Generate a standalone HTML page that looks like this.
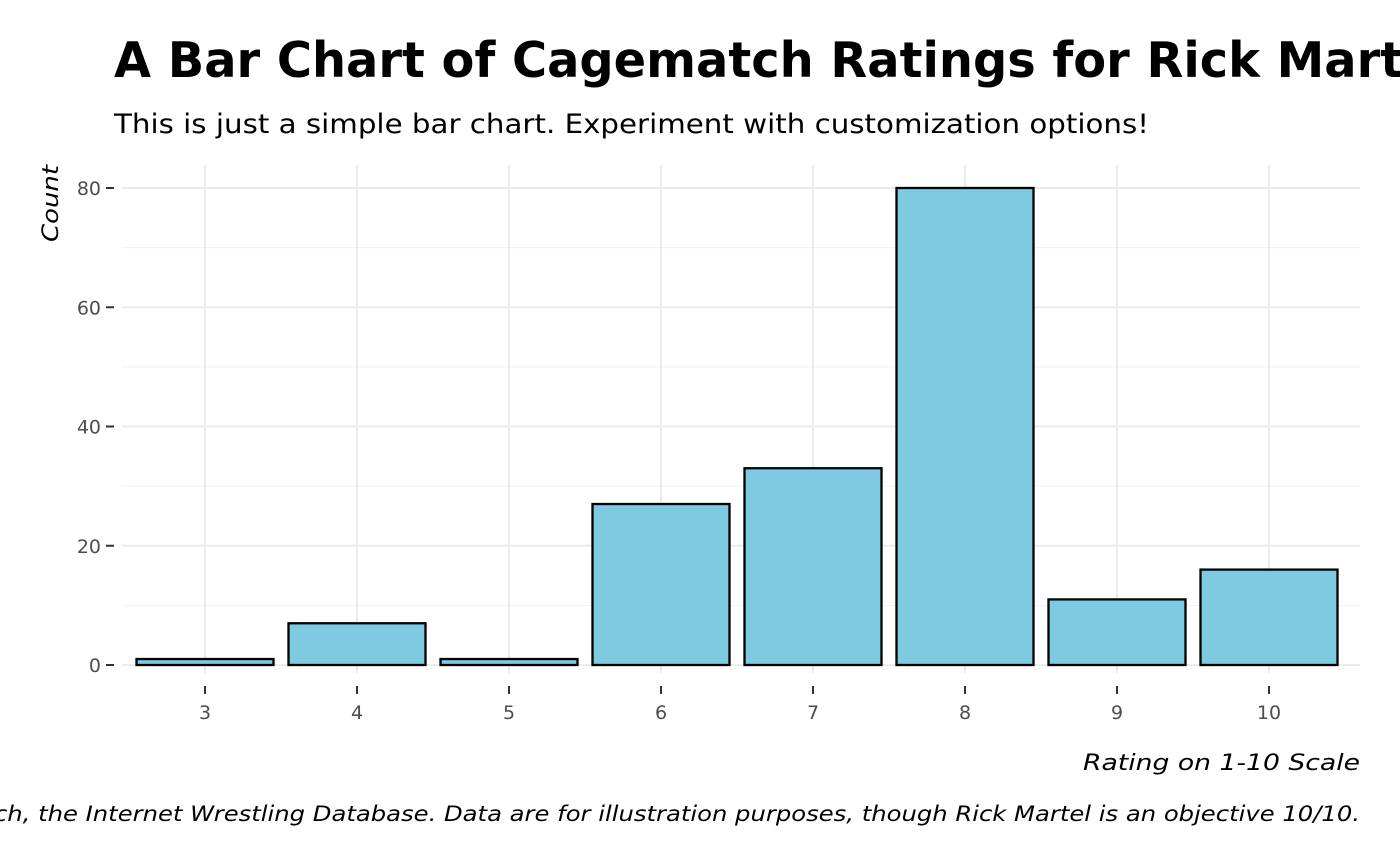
<!DOCTYPE html>
<html><head><meta charset="utf-8"><style>
body{margin:0;background:#fff;width:1400px;height:866px;overflow:hidden}
svg{display:block;font-family:"DejaVu Sans","Liberation Sans",sans-serif}
</style></head><body>
<svg id="chart" width="1400" height="866">
<text x="114" y="77" font-size="49" font-weight="bold" fill="#000" textLength="1338" lengthAdjust="spacingAndGlyphs">A Bar Chart of Cagematch Ratings for Rick Martel</text>
<text x="114" y="133" font-size="27" fill="#000" textLength="1035" lengthAdjust="spacingAndGlyphs">This is just a simple bar chart. Experiment with customization options!</text>
<g id="grid"></g><g id="bars"></g><g id="axes"></g>
<text transform="translate(58,242) rotate(-90)" font-size="22" font-style="italic" fill="#000" textLength="77" lengthAdjust="spacingAndGlyphs">Count</text>
<text x="1083" y="770" font-size="22" font-style="italic" fill="#000" textLength="277" lengthAdjust="spacingAndGlyphs">Rating on 1-10 Scale</text>
<text x="-216" y="821" font-size="21" font-style="italic" fill="#000" textLength="1576" lengthAdjust="spacingAndGlyphs">Source: Cagematch, the Internet Wrestling Database. Data are for illustration purposes, though Rick Martel is an objective 10/10.</text>
</svg>
<script>
const categories=["3","4","5","6","7","8","9","10"];
const counts=[1,7,1,27,33,80,11,16];
const yTicks=[0,20,40,60,80];
const yMinor=[10,30,50,70];
const NS="http://www.w3.org/2000/svg";
const Y0=665,Y_PER=(665-188)/80,X0=205,STEP=152,BW=137,PLOT_L=122,PLOT_R=1360,PLOT_T=165;
const yScale=v=>Y0-v*Y_PER, xScale=i=>X0+i*STEP;
function mk(t,a,p){const e=document.createElementNS(NS,t);for(const k in a)e.setAttribute(k,a[k]);p.appendChild(e);return e;}
const gGrid=document.getElementById('grid'),gBars=document.getElementById('bars'),gAx=document.getElementById('axes');
yMinor.forEach(v=>{const l=mk('line',{x1:PLOT_L,x2:PLOT_R,y1:yScale(v),y2:yScale(v),stroke:'#f0f0f0','stroke-width':1},gGrid);

});
yTicks.forEach(v=>{const l=mk('line',{x1:PLOT_L,x2:PLOT_R,y1:yScale(v),y2:yScale(v),stroke:'#ebebeb','stroke-width':2},gGrid);


const t=mk('line',{x1:106,x2:114,y1:yScale(v),y2:yScale(v),stroke:'#333','stroke-width':2},gAx);


const tx=mk('text',{x:101,y:yScale(v)+7,'text-anchor':'end','font-size':19,fill:'#4d4d4d'},gAx);tx.textContent=v;

});
categories.forEach((c,i)=>{const x=xScale(i);
const l=mk('line',{x1:x,x2:x,y1:PLOT_T,y2:Y0+8,stroke:'#ebebeb','stroke-width':2},gGrid);


const r=mk('rect',{x:x-BW/2,y:yScale(counts[i]),width:BW,height:counts[i]*Y_PER,fill:'#7ecae1',stroke:'#000','stroke-width':2.3},gBars);


const t=mk('line',{x1:x,x2:x,y1:686,y2:694,stroke:'#333','stroke-width':2},gAx);


const tx=mk('text',{x:x,y:719,'text-anchor':'middle','font-size':19,fill:'#4d4d4d'},gAx);tx.textContent=c;

});
</script>
</body></html>
